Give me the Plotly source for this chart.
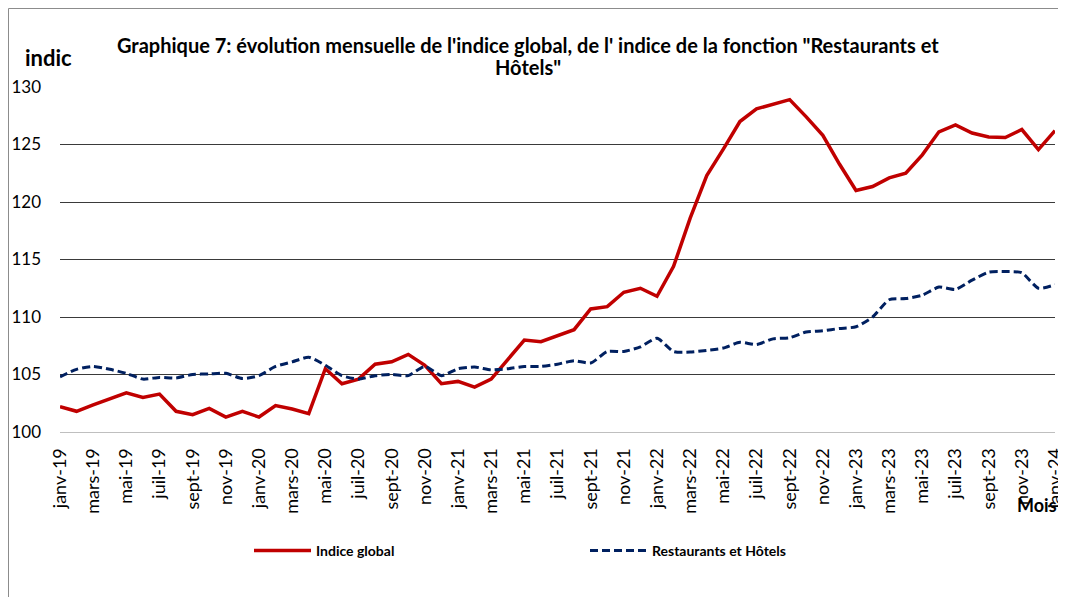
import plotly.graph_objects as go

month_names = ["janv", "févr", "mars", "avr", "mai", "juin",
               "juil", "août", "sept", "oct", "nov", "déc"]
years = ["19", "20", "21", "22", "23"]
months = [f"{m}-{y}" for y in years for m in month_names] + ["janv-24"]

indice_global = [
    102.2, 101.8, 102.35, 102.9, 103.4, 103.0, 103.3, 101.8, 101.5, 102.05, 101.3, 101.8,
    101.3, 102.3, 102.0, 101.6, 105.5, 104.2, 104.6, 105.9, 106.1, 106.75, 105.8, 104.2,
    104.4, 103.9, 104.6, 106.3, 108.0, 107.85, 108.4, 108.9, 110.7, 110.9, 112.15, 112.5,
    111.8, 114.4, 118.6, 122.3, 124.6, 127.0, 128.1, 128.5, 128.9, 127.4, 125.8, 123.3,
    121.0, 121.35, 122.1, 122.5, 124.1, 126.1, 126.7, 126.0, 125.65, 125.6, 126.3, 124.55,
    126.2,
]

restaurants_hotels = [
    104.8, 105.45, 105.7, 105.45, 105.1, 104.6, 104.75, 104.7, 105.0, 105.05, 105.1, 104.65,
    104.9, 105.7, 106.1, 106.5, 105.8, 104.9, 104.6, 104.9, 105.0, 104.9, 105.7, 104.9,
    105.5, 105.65, 105.4, 105.5, 105.7, 105.7, 105.9, 106.2, 106.0, 107.0, 107.0, 107.4,
    108.15, 107.0, 106.95, 107.1, 107.3, 107.8, 107.6, 108.1, 108.2, 108.7, 108.8, 109.0,
    109.15, 110.0, 111.5, 111.6, 111.9, 112.6, 112.4, 113.2, 113.9, 113.95, 113.85, 112.5,
    112.8,
]

y_ticks = [100, 105, 110, 115, 120, 125, 130]

title_line1 = ("Graphique 7: évolution mensuelle de l'indice global, de l' indice de la fonction "
               "\"Restaurants et")
title_line2 = "Hôtels\""

FONT = "Lato"

fig = go.Figure()
fig.add_trace(go.Scatter(
    x=months, y=indice_global, name="Indice global", mode="lines",
    line=dict(color="#C00000", width=3.5),
))
fig.add_trace(go.Scatter(
    x=months, y=restaurants_hotels, name="Restaurants et Hôtels", mode="lines",
    line=dict(color="#002060", width=3, dash="8px,4px", shape="spline", smoothing=0.6),
))

# the page body has an 8px margin; work in page coordinates of the reference
OFF = 8
W, H = 1066 - OFF, 597 - OFF
PL, PR, PT, PB = 60, 1055, 87, 432          # plot area in page pixels
L, R, T, B = PL - OFF, 1066 - PR, PT - OFF, H - (PB - OFF)
pw, ph = W - L - R, H - T - B

def px_x(px):
    return (px - OFF - L) / pw

def px_y(py):
    return (H - B - (py - OFF)) / ph

fig.update_layout(
    width=W, height=H,
    margin=dict(l=L, r=R, t=T, b=B, autoexpand=False),
    paper_bgcolor="white", plot_bgcolor="white",
    font=dict(family=FONT, color="black"),
    showlegend=True,
    legend=dict(orientation="h", x=px_x(249), xanchor="left", y=px_y(551), yanchor="middle",
                font=dict(family=FONT, size=14, color="black", weight="bold"),
                itemwidth=57, entrywidth=264, bgcolor="rgba(0,0,0,0)"),
    xaxis=dict(type="category", range=[0, len(months) - 1],
               tickmode="array", tickvals=months[::2], ticktext=months[::2],
               tickangle=-90, tickfont=dict(family=FONT, size=18, color="black"),
               showgrid=False, showline=True, linecolor="#BFBFBF", linewidth=1,
               ticks="", ticklabelstandoff=8, zeroline=False),
    yaxis=dict(range=[100, 130], tickmode="array", tickvals=y_ticks,
               tickfont=dict(family=FONT, size=17, color="black"),
               showgrid=True, gridcolor="#3a3a3a", gridwidth=1,
               showline=False, zeroline=False, ticks="", ticklabelstandoff=18),
    annotations=[
        dict(text=title_line1, xref="paper", yref="paper", x=px_x(528), y=px_y(45),
             xanchor="center", yanchor="middle", showarrow=False,
             font=dict(family=FONT, size=20, color="black", weight="bold")),
        dict(text=title_line2, xref="paper", yref="paper", x=px_x(528), y=px_y(67),
             xanchor="center", yanchor="middle", showarrow=False,
             font=dict(family=FONT, size=20, color="black", weight="bold")),
        dict(text="<b>indic</b>", xref="paper", yref="paper", x=px_x(48), y=px_y(57),
             xanchor="center", yanchor="middle", showarrow=False,
             font=dict(family=FONT, size=22, color="black")),
        dict(text="<b>Mois</b>", xref="paper", yref="paper", x=px_x(1037), y=px_y(505),
             xanchor="center", yanchor="middle", showarrow=False,
             font=dict(family=FONT, size=18, color="black")),
    ],
    shapes=[
        dict(type="rect", xref="paper", yref="paper",
             x0=px_x(8.5), x1=px_x(1080), y0=px_y(610), y1=px_y(8.5),
             line=dict(color="#8c8c8c", width=1), layer="below"),
    ],
)

fig.write_html("out.html")
